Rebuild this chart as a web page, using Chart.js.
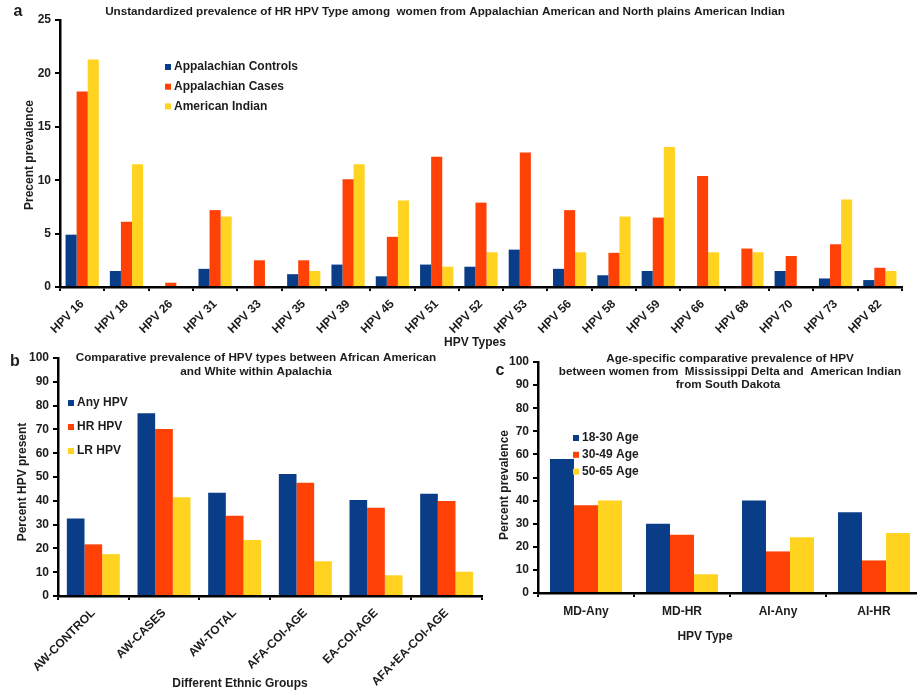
<!DOCTYPE html>
<html>
<head>
<meta charset="utf-8">
<script src="https://cdn.jsdelivr.net/npm/chart.js@4"></script>
<style>
  html, body { margin: 0; padding: 0; background: #fff; overflow: hidden; }
  body { width: 917px; height: 693px; position: relative; }
  canvas { position: absolute; }
  #chartA { left: 0; top: 0; }
  #chartB { left: 0; top: 340px; }
  #chartC { left: 480px; top: 340px; }
</style>
</head>
<body>
<canvas id="chartA" width="917" height="350"></canvas>
<canvas id="chartB" width="484" height="353"></canvas>
<canvas id="chartC" width="444" height="353"></canvas>
<script>
// panel a: HR HPV types
const hpvTypes = ["HPV 16", "HPV 18", "HPV 26", "HPV 31", "HPV 33", "HPV 35", "HPV 39", "HPV 45", "HPV 51", "HPV 52",
  "HPV 53", "HPV 56", "HPV 58", "HPV 59", "HPV 66", "HPV 68", "HPV 70", "HPV 73", "HPV 82"];
const appControls = [4.9, 1.5, 0, 1.7, 0, 1.2, 2.1, 1.0, 2.1, 1.9, 3.5, 1.7, 1.1, 1.5, 0, 0, 1.5, 0.8, 0.65];
const appCases = [18.3, 6.1, 0.4, 7.2, 2.5, 2.5, 10.1, 4.7, 12.2, 7.9, 12.6, 7.2, 3.2, 6.5, 10.4, 3.6, 2.9, 4.0, 1.8];
const amIndian = [21.3, 11.5, 0, 6.6, 0, 1.5, 11.5, 8.1, 1.9, 3.25, 0, 3.25, 6.6, 13.1, 3.25, 3.25, 0, 8.2, 1.5];

// panel b: ethnic groups
const ethnicGroups = ["AW-CONTROL", "AW-CASES", "AW-TOTAL", "AFA-COI-AGE", "EA-COI-AGE", "AFA+EA-COI-AGE"];
const anyHpv = [32.6, 76.8, 43.4, 51.3, 40.3, 43.0];
const hrHpv = [21.7, 70.2, 33.7, 47.6, 37.1, 39.9];
const lrHpv = [17.6, 41.5, 23.5, 14.6, 8.7, 10.2];

// panel c: age groups
const hpvTypeGroups = ["MD-Any", "MD-HR", "AI-Any", "AI-HR"];
const age18to30 = [58, 30, 40, 35];
const age30to49 = [38, 25.2, 18, 14.1];
const age50to65 = [40, 8.1, 24.1, 26];

const BLUE = "#0a3d87";
const RED = "#ff4106";
const YELLOW = "#ffd320";
const INK = "#1c1c1c";
const FONT = "'Liberation Sans', Arial, sans-serif";

// free text (titles, axis names, panel letters)
const overlayText = {
  id: "overlayText",
  afterDraw(chart, args, opts) {
    const ctx = chart.ctx;
    (opts.items || []).forEach((it) => {
      ctx.save();
      ctx.font = it.font;
      ctx.fillStyle = INK;
      ctx.textAlign = "center";
      ctx.textBaseline = "middle";
      ctx.translate(it.x, it.y);
      if (it.rotate) ctx.rotate(it.rotate);
      ctx.fillText(it.text, 0, 0);
      ctx.restore();
    });
  },
};

// legend drawn inside the plot area
const boxLegend = {
  id: "boxLegend",
  afterDraw(chart, args, opts) {
    if (opts.x === undefined) return;
    const ctx = chart.ctx;
    ctx.save();
    chart.data.datasets.forEach((ds, i) => {
      const y = opts.y + i * opts.gap;
      ctx.fillStyle = ds.backgroundColor;
      ctx.fillRect(opts.x, y - opts.box / 2, opts.box, opts.box);
      ctx.fillStyle = INK;
      ctx.font = opts.font;
      ctx.textAlign = "left";
      ctx.textBaseline = "middle";
      ctx.fillText(ds.label, opts.x + opts.box + 3, y);
    });
    ctx.restore();
  },
};

function makeScales(yMax, step, yWidth, xHeight, xRotation, xPad) {
  return {
    x: {
      afterFit: (s) => { s.height = xHeight; },
      grid: { drawOnChartArea: false, drawTicks: true, tickLength: 4, color: "#000", lineWidth: 2 },
      border: { display: true, color: "#000", width: 2.5 },
      ticks: {
        color: INK,
        font: { family: FONT, size: 12, weight: "bold" },
        minRotation: xRotation,
        maxRotation: xRotation,
        autoSkip: false,
        padding: xPad,
      },
    },
    y: {
      min: 0,
      max: yMax,
      afterFit: (s) => { s.width = yWidth; },
      grid: { drawOnChartArea: false, drawTicks: true, tickLength: 5, color: "#000", lineWidth: 2 },
      border: { display: true, color: "#000", width: 2.5 },
      ticks: {
        stepSize: step,
        color: INK,
        font: { family: FONT, size: 12, weight: "bold" },
        padding: 4,
      },
    },
  };
}

function bars(label, data, color) {
  return { label, data, backgroundColor: color, borderWidth: 0, barPercentage: 1, categoryPercentage: 0.75 };
}

document.addEventListener("DOMContentLoaded", () => {
  const titleFont = "bold 11.7px " + FONT;
  const axisFont = "bold 12px " + FONT;
  const letterFont = "bold 16px " + FONT;

  // a
  new Chart(document.getElementById("chartA"), {
    type: "bar",
    data: {
      labels: hpvTypes,
      datasets: [
        bars("Appalachian Controls", appControls, BLUE),
        bars("Appalachian Cases", appCases, RED),
        bars("American Indian", amIndian, YELLOW),
      ],
    },
    options: {
      responsive: false,
      animation: false,
      layout: { padding: { top: 20, right: 15, left: 0, bottom: 0 } },
      scales: makeScales(25, 5, 60, 63, 45, 6),
      plugins: {
        legend: { display: false },
        tooltip: { enabled: false },
        boxLegend: { x: 165, y: 67, gap: 19.7, box: 6, font: "bold 12px " + FONT },
        overlayText: {
          items: [
            { text: "a", x: 18, y: 12, font: letterFont },
            { text: "Unstandardized prevalence of HR HPV Type among  women from Appalachian American and North plains American Indian", x: 445, y: 12, font: titleFont },
            { text: "Precent prevalence", x: 30, y: 155, font: axisFont, rotate: -Math.PI / 2 },
            { text: "HPV Types", x: 475, y: 343, font: axisFont },
          ],
        },
      },
    },
    plugins: [boxLegend, overlayText],
  });

  // b
  new Chart(document.getElementById("chartB"), {
    type: "bar",
    data: {
      labels: ethnicGroups,
      datasets: [
        bars("Any HPV", anyHpv, BLUE),
        bars("HR HPV", hrHpv, RED),
        bars("LR HPV", lrHpv, YELLOW),
      ],
    },
    options: {
      responsive: false,
      animation: false,
      layout: { padding: { top: 18, right: 2, left: 0, bottom: 0 } },
      scales: makeScales(100, 10, 58, 97, 45, 6),
      plugins: {
        legend: { display: false },
        tooltip: { enabled: false },
        boxLegend: { x: 68, y: 63, gap: 24, box: 6, font: "bold 12px " + FONT },
        overlayText: {
          items: [
            { text: "b", x: 15, y: 22, font: letterFont },
            { text: "Comparative prevalence of HPV types between African American", x: 256, y: 18, font: titleFont },
            { text: "and White within Apalachia", x: 256, y: 32, font: titleFont },
            { text: "Percent HPV present", x: 23, y: 142, font: axisFont, rotate: -Math.PI / 2 },
            { text: "Different Ethnic Groups", x: 240, y: 344, font: axisFont },
          ],
        },
      },
    },
    plugins: [boxLegend, overlayText],
  });

  // c
  new Chart(document.getElementById("chartC"), {
    type: "bar",
    data: {
      labels: hpvTypeGroups,
      datasets: [
        bars("18-30 Age", age18to30, BLUE),
        bars("30-49 Age", age30to49, RED),
        bars("50-65 Age", age50to65, YELLOW),
      ],
    },
    options: {
      responsive: false,
      animation: false,
      layout: { padding: { top: 22, right: 2, left: 0, bottom: 0 } },
      scales: makeScales(100, 10, 58, 100, 0, 7),
      plugins: {
        legend: { display: false },
        tooltip: { enabled: false },
        boxLegend: { x: 93, y: 98, gap: 16.8, box: 6, font: "bold 12px " + FONT },
        overlayText: {
          items: [
            { text: "c", x: 20, y: 31, font: letterFont },
            { text: "Age-specific comparative prevalence of HPV", x: 250, y: 19, font: titleFont },
            { text: "between women from  Mississippi Delta and  American Indian", x: 250, y: 32, font: titleFont },
            { text: "from South Dakota", x: 248, y: 45, font: titleFont },
            { text: "Percent prevalence", x: 25, y: 145, font: axisFont, rotate: -Math.PI / 2 },
            { text: "HPV Type", x: 225, y: 297, font: axisFont },
          ],
        },
      },
    },
    plugins: [boxLegend, overlayText],
  });
});
</script>
</body>
</html>
